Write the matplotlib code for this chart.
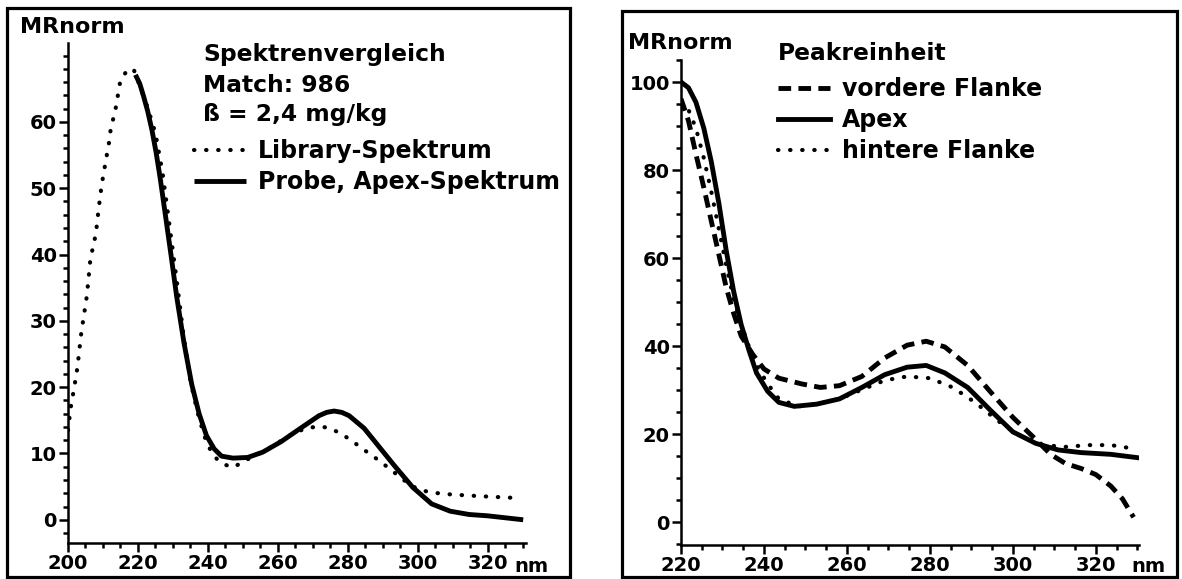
import matplotlib
matplotlib.use("Agg")
import matplotlib.pyplot as plt
from matplotlib.patches import Rectangle
from matplotlib.ticker import MultipleLocator, FixedLocator

plt.rcParams['font.family'] = ['DejaVu Sans']
plt.rcParams['font.weight'] = 'bold'

# --- left panel: Spektrenvergleich ---
lib_nm = [200, 200.8, 201.8, 202.7, 203.8, 205.4, 206.4, 208, 208.7, 209.6, 210.7,
          211.8, 212.3, 213.4, 215, 217.1, 218.8, 221, 223, 225, 227, 229, 231,
          233, 235, 237, 239, 241, 243, 245, 247, 249, 251, 253, 256, 260, 264,
          268, 272, 275, 278, 281, 284, 288, 292, 296, 300, 304, 310, 320, 328]
lib_val = [13.5, 17, 20, 23, 28.2, 33.8, 39.3, 43.2, 46.6, 50.4, 53.8,
           57.1, 59.3, 61.3, 66.3, 67.9, 67.9, 64.8, 61.8, 58.3, 52.5, 44.5, 36.5,
           28, 21, 16.3, 12.6, 10.2, 8.9, 8.3, 7.9, 8.4, 9.0, 9.6, 10.3, 11.6, 12.9,
           13.8, 14.1, 13.8, 13.0, 12.0, 10.8, 9.3, 7.7, 6.0, 4.6, 4.1, 3.8, 3.5, 3.3]

probe_nm = [219.3, 220.5, 221.6, 222.8, 224, 225.2, 226.4, 227.9, 229.5, 231.1,
            233.2, 235.4, 237.5, 239.6, 241.8, 243.9, 247.2, 251.4, 255.7, 261,
            266.5, 271.8, 274, 276.1, 278.3, 280.4, 284.7, 289, 293.3, 298.6,
            304, 309.3, 314.7, 320, 330.2]
probe_val = [67.1, 65.8, 63.9, 61.6, 58.8, 55.4, 51.4, 45.8, 39.8, 33.6,
             26.6, 20.4, 16, 12.7, 10.7, 9.6, 9.3, 9.4, 10.2, 11.8,
             13.8, 15.7, 16.2, 16.4, 16.2, 15.7, 13.8, 11, 8.2, 4.9,
             2.4, 1.3, 0.8, 0.6, 0.0]

# --- right panel: Peakreinheit ---
apex_nm = [220, 221.8, 223.6, 225.5, 227.3, 229.1, 230.9, 232.7, 234.5, 236.4,
           238.2, 240.9, 243.6, 247.3, 252.7, 258.2, 263.6, 269.1, 274.5, 279.1,
           283.6, 289.1, 294.5, 300, 305.5, 310.9, 316.4, 323.6, 330.4]
apex_val = [100, 98.7, 95.4, 89.5, 81.9, 72.6, 61.7, 52.4, 44.9, 39,
            33.9, 29.7, 27.2, 26.3, 26.8, 28, 30.6, 33.5, 35.2, 35.6,
            33.9, 30.6, 25.5, 20.5, 17.9, 16.4, 15.8, 15.4, 14.6]

front_nm = [220, 221.8, 223.6, 225.5, 227.3, 229.1, 230.9, 232.7, 234.5, 237.3,
            240, 243.6, 249.1, 253.6, 258.2, 263.6, 269.1, 274.5, 279.1, 283.6,
            289.1, 294.5, 300, 305.5, 309.1, 312.7, 316.4, 320, 323.6, 326.4, 329.1]
front_val = [96.2, 91.2, 83.6, 76, 68.4, 60.9, 53.3, 47.4, 42.3, 38.1,
             34.8, 32.7, 31.4, 30.6, 31, 33.1, 37.3, 40.2, 41.1, 39.8,
             35.6, 29.7, 23.8, 18.8, 15.4, 13.3, 12.2, 10.8, 8.2, 5.3, 1.1]

back_nm = [220, 221.8, 223.6, 225.5, 227.3, 229.1, 230.9, 232.7, 234.5, 236.4,
           238.2, 240.9, 243.6, 248.2, 252.7, 258.2, 263.6, 269.1, 274.5, 280,
           285.5, 290.9, 296.4, 301.8, 307.3, 312.7, 318.2, 323.6, 329.1]
back_val = [95.4, 93.7, 89.5, 82.7, 75.1, 66.7, 58.3, 50.7, 44.9, 39.8,
            35.6, 31.4, 28, 26.3, 26.8, 28, 30.1, 32.2, 33.1, 32.7,
            30.6, 27.2, 23, 19.6, 17.5, 17.1, 17.5, 17.5, 16.7]

W, H = 1182, 579
fig = plt.figure(figsize=(W / 100, H / 100), dpi=100)

def px_rect(x0, y0, x1, y1):
    # pixel box (top-left origin) -> figure fraction [left, bottom, width, height]
    return [x0 / W, 1 - y1 / H, (x1 - x0) / W, (y1 - y0) / H]

# panel frames
for x0, y0, x1, y1 in [(7, 8, 570, 577), (622, 11, 1177, 577)]:
    l, b, w, h = px_rect(x0, y0, x1, y1)
    fig.patches.append(Rectangle((l, b), w, h, transform=fig.transFigure,
                                 fill=False, lw=2.3, edgecolor='black'))

dotted = (0, (0.1, 2.8))
dashed = (0, (2.6, 1.5))

def style_axes(ax, xmajor, ymajor, xminor, yminor):
    for s in ['top', 'right']:
        ax.spines[s].set_visible(False)
    for s in ['left', 'bottom']:
        ax.spines[s].set_linewidth(1.8)
    ax.xaxis.set_major_locator(FixedLocator(xmajor))
    ax.yaxis.set_major_locator(FixedLocator(ymajor))
    ax.xaxis.set_minor_locator(MultipleLocator(xminor))
    ax.yaxis.set_minor_locator(MultipleLocator(yminor))
    ax.tick_params(which='major', direction='out', length=6.5, width=1.8,
                   labelsize=14, pad=1.5)
    ax.tick_params(which='minor', direction='out', length=3.6, width=1.8)
    for lab in ax.get_xticklabels() + ax.get_yticklabels():
        lab.set_fontweight('bold')

leg_kw = dict(bbox_transform=fig.transFigure, frameon=False, borderpad=0,
              borderaxespad=0, handlelength=2.2, handletextpad=0.5,
              labelspacing=0.3, prop={'size': 17, 'weight': 'bold'})

# left axes
ax1 = fig.add_axes(px_rect(68, 43, 526, 543))
ax1.plot(lib_nm, lib_val, color='black', lw=3, linestyle=dotted,
         dash_capstyle='round', label='Library-Spektrum')
ax1.plot(probe_nm, probe_val, color='black', lw=3.5, label='Probe, Apex-Spektrum',
         solid_capstyle='butt')
ax1.set_xlim(200, 331)
ax1.set_ylim(-3.5, 71.9)
style_axes(ax1, range(200, 321, 20), range(0, 61, 10), 5, 2)
ax1.legend(loc='upper left', bbox_to_anchor=(194 / W, 1 - 139 / H), **leg_kw)

# right axes
ax2 = fig.add_axes(px_rect(681, 60, 1139, 545))
ax2.plot(front_nm, front_val, color='black', lw=3.5, linestyle=dashed,
         label='vordere Flanke')
ax2.plot(apex_nm, apex_val, color='black', lw=3.5, label='Apex')
ax2.plot(back_nm, back_val, color='black', lw=3, linestyle=dotted,
         dash_capstyle='round', label='hintere Flanke')
ax2.set_xlim(220, 330.4)
ax2.set_ylim(-5.2, 105)
style_axes(ax2, range(220, 321, 20), range(0, 101, 20), 5, 5)
ax2.legend(loc='upper left', bbox_to_anchor=(778 / W, 1 - 77 / H), **leg_kw)

# text labels
def ftext(x, y, s, size=16.8):
    fig.text(x / W, 1 - y / H, s, fontsize=size, fontweight='bold',
             va='center', ha='left')

ftext(20, 27, 'MRnorm', 16)
ftext(628, 43, 'MRnorm', 16)
ftext(203, 55, 'Spektrenvergleich')
ftext(203, 85, 'Match: 986')
ftext(203, 115, 'ß = 2,4 mg/kg')
ftext(778, 53, 'Peakreinheit')
ftext(514, 566, 'nm', 14)
ftext(1131, 566, 'nm', 14)

fig.savefig('out.png', dpi=100)
